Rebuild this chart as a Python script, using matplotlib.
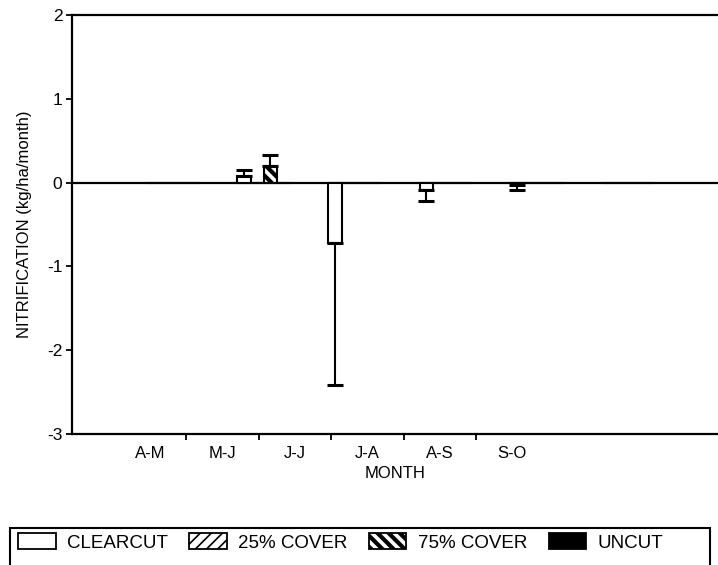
import numpy as np
import matplotlib
matplotlib.use("Agg")
import matplotlib.pyplot as plt
from matplotlib.patches import Patch, Rectangle

plt.rcParams['font.family'] = ['Liberation Sans', 'DejaVu Sans']
plt.rcParams['axes.unicode_minus'] = False
plt.rcParams['hatch.linewidth'] = 1.2

# --- dados ---
meses = ["A-M", "M-J", "J-J", "J-A", "A-S", "S-O"]
tratamentos = ["CLEARCUT", "25% COVER", "75% COVER", "UNCUT"]

clearcut = [0.0, 0.08, -0.72, -0.09, -0.03, 0.0]
clearcut_err = [0.0, 0.07, 1.70, 0.13, 0.06, 0.0]
cover25 = [0.0, 0.0, 0.0, 0.0, 0.0, 0.0]
cover25_err = [0.0, 0.0, 0.0, 0.0, 0.0, 0.0]
cover75 = [0.0, 0.20, 0.0, 0.0, 0.0, 0.0]
cover75_err = [0.0, 0.13, 0.0, 0.0, 0.0, 0.0]
uncut = [0.0, 0.0, 0.0, 0.0, 0.0, 0.0]
uncut_err = [0.0, 0.0, 0.0, 0.0, 0.0, 0.0]

valores = [clearcut, cover25, cover75, uncut]
erros = [clearcut_err, cover25_err, cover75_err, uncut_err]

# estilos de cada tratamento
estilos = [
    dict(facecolor='white', hatch=None),
    dict(facecolor='white', hatch='///'),
    dict(facecolor='white', hatch='\\\\\\'),
    dict(facecolor='black', hatch=None),
]
# espessura da hachura (75% fica quase preto no original)
esp_hachura = [1.2, 1.2, 3.0, 1.2]


def ajusta_hachura(p, lw):
    if hasattr(p, 'set_hatch_linewidth'):
        p.set_hatch_linewidth(lw)


# --- figura ---
fig = plt.figure(figsize=(7.18, 5.65), dpi=100)
ax = fig.add_axes([0.1003, 0.2319, 0.8997, 0.7416])

x_meses = np.arange(len(meses))
# no original as barras não ficam alinhadas com os rótulos dos meses
passo_grupo = 1.257
desloc_grupo = 0.037
largura = 0.18

ax.axhline(0, color='black', lw=1.6, zorder=1)

for k, (vals, errs, est) in enumerate(zip(valores, erros, estilos)):
    vals = np.array(vals)
    errs = np.array(errs)
    xpos = desloc_grupo + passo_grupo * x_meses + k * largura
    barras = ax.bar(xpos, vals, width=largura, edgecolor='black',
                    linewidth=1.5, zorder=3, **est)
    for b in barras:
        ajusta_hachura(b, esp_hachura[k])
    tem = errs > 0
    if tem.any():
        baixo = np.where(vals[tem] < 0, errs[tem], 0)
        cima = np.where(vals[tem] >= 0, errs[tem], 0)
        ax.errorbar(xpos[tem], vals[tem], yerr=[baixo, cima], fmt='none',
                    ecolor='black', elinewidth=1.5, capsize=5.5, capthick=2.2,
                    zorder=4)

ax.set_xlim(-1.081, 7.84)
ax.set_ylim(-3, 2)
ax.set_yticks(np.arange(-3, 3))
ax.set_yticklabels([str(v) for v in range(-3, 3)])
ax.set_xticks(x_meses)
ax.set_xticklabels(meses)
ax.set_xticks(x_meses[:-1] + 0.5, minor=True)

ax.tick_params(axis='x', which='major', length=0, pad=9, labelsize=12)
ax.tick_params(axis='x', which='minor', length=4, width=1.3, direction='out')
ax.tick_params(axis='y', length=4, width=1.3, direction='out', pad=3,
               labelsize=12.5)

for lado in ['top', 'bottom', 'left']:
    ax.spines[lado].set_linewidth(1.6)
ax.spines['right'].set_visible(False)

ax.set_xlabel("MONTH", fontsize=12, labelpad=3)
ax.set_ylabel("NITRIFICATION (kg/ha/month)", fontsize=12, labelpad=11)

# --- legenda ---
handles = []
for est, lw in zip(estilos, esp_hachura):
    h = Patch(edgecolor='black', linewidth=1.3, **est)
    ajusta_hachura(h, lw)
    handles.append(h)
leg = fig.legend(handles, tratamentos, loc='upper left',
                 bbox_to_anchor=(18 / 718, 1 - 533 / 565), ncol=4,
                 frameon=False, fontsize=13.5, handlelength=2.0,
                 handleheight=0.95, handletextpad=0.6, columnspacing=1.15,
                 borderpad=0, borderaxespad=0)
for h, lw in zip(leg.legend_handles, esp_hachura):
    ajusta_hachura(h, lw)
fig.patches.append(Rectangle((10 / 718, -0.05), 700 / 718, 0.05 + 37 / 565,
                             transform=fig.transFigure, fill=False,
                             edgecolor='black', linewidth=1.5))

fig.savefig("out.png", dpi=100)
